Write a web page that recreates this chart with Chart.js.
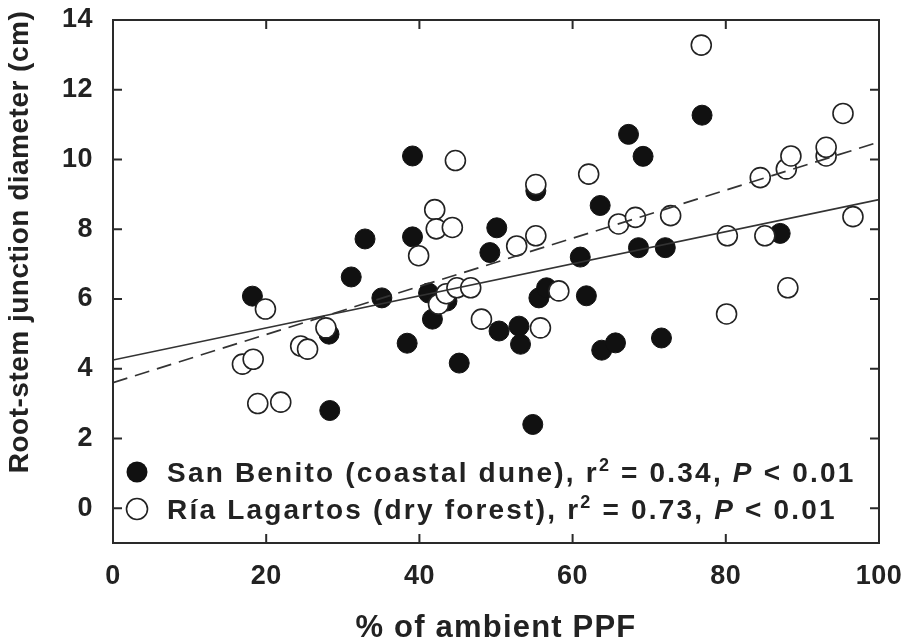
<!DOCTYPE html>
<html>
<head>
<meta charset="utf-8">
<script src="https://cdn.jsdelivr.net/npm/chart.js@4.4.0/dist/chart.umd.min.js"></script>
<style>
  html, body { margin: 0; padding: 0; background: #fff; }
  #wrap { width: 907px; height: 641px; position: relative; }
</style>
</head>
<body>
<div id="wrap"><canvas id="ppfChart"></canvas></div>
<script>
// San Benito (coastal dune) - filled circles
const sanBenitoX = [18.2, 28.2, 28.3, 31.1, 32.9, 35.1, 38.4, 39.1, 39.1, 41.2, 41.7, 43.6, 45.2, 49.2, 50.1, 50.4, 53.0,
                    53.2, 54.8, 55.2, 55.6, 56.6, 61.0, 61.8, 63.6, 63.8, 65.6, 67.3, 69.2, 68.6, 72.1, 71.6, 76.9, 87.1];
const sanBenitoY = [6.08, 4.99, 2.8, 6.63, 7.72, 6.03, 4.73, 10.1, 7.78, 6.17, 5.42, 5.94, 4.16, 7.33, 8.04, 5.08, 5.22,
                    4.70, 2.4, 9.1, 6.03, 6.32, 7.2, 6.09, 8.68, 4.53, 4.74, 10.72, 10.09, 7.47, 7.47, 4.88, 11.27, 7.88];

// Ría Lagartos (dry forest) - open circles
const riaX = [16.9, 18.3, 18.9, 19.9, 21.9, 24.5, 25.4, 27.8, 39.9, 42.0, 42.2, 44.3, 42.5, 43.5, 44.9, 46.7, 44.7, 48.1,
              52.7, 55.2, 55.2, 55.8, 58.2, 62.1, 66.0, 68.2, 72.8, 76.8, 80.2, 80.1, 84.5, 85.1, 87.9, 88.5, 88.1, 93.1,
              93.1, 95.3, 96.6];
const riaY = [4.13, 4.27, 3.0, 5.71, 3.04, 4.65, 4.56, 5.17, 7.24, 8.56, 8.01, 8.05, 5.85, 6.15, 6.32, 6.32, 9.97, 5.42,
              7.52, 7.81, 9.28, 5.17, 6.23, 9.58, 8.15, 8.34, 8.39, 13.28, 7.81, 5.57, 9.48, 7.81, 9.73, 10.1, 6.32, 10.1,
              10.35, 11.32, 8.36];

// regression lines, read at the plot edges
const fitX = [0, 100];
const sanBenitoFit = [4.25, 8.85];
const riaFit = [3.6, 10.5];

const seriesNames = ['San Benito (coastal dune)', 'Ría Lagartos (dry forest)'];
const seriesR2 = ['0.34', '0.73'];
const seriesP = ['0.01', '0.01'];

const xTicks = [0, 20, 40, 60, 80, 100];
const yTicks = [0, 2, 4, 6, 8, 10, 12, 14];
const xTitle = '% of ambient PPF';
const yTitle = 'Root-stem junction diameter (cm)';

const toPoints = (xs, ys) => xs.map((x, i) => ({ x: x, y: ys[i] }));

const FONT = '"Liberation Sans", Arial, sans-serif';
const INK = '#222';

// draws the box, inward ticks on all four sides, axis titles and the legend
const frameAndLegend = {
    id: 'frameAndLegend',
    beforeDraw(chart) {
        chart.ctx.letterSpacing = '0.5px';
    },
    afterDraw(chart) {
        const ctx = chart.ctx;
        const a = chart.chartArea;
        const xs = chart.scales.x;
        const ys = chart.scales.y;
        ctx.save();
        ctx.strokeStyle = '#2a2a2a';
        ctx.lineWidth = 2;
        ctx.strokeRect(a.left, a.top, a.right - a.left, a.bottom - a.top);

        ctx.beginPath();
        xTicks.forEach(v => {
            const px = xs.getPixelForValue(v);
            ctx.moveTo(px, a.bottom); ctx.lineTo(px, a.bottom - 9);
            ctx.moveTo(px, a.top); ctx.lineTo(px, a.top + 9);
        });
        yTicks.forEach(v => {
            const py = ys.getPixelForValue(v);
            ctx.moveTo(a.left, py); ctx.lineTo(a.left + 9, py);
            ctx.moveTo(a.right, py); ctx.lineTo(a.right - 9, py);
        });
        ctx.stroke();

        ctx.fillStyle = INK;
        ctx.textBaseline = 'alphabetic';

        // axis titles
        ctx.letterSpacing = '1.2px';
        ctx.font = 'bold 31px ' + FONT;
        ctx.textAlign = 'center';
        ctx.fillText(xTitle, (a.left + a.right) / 2, 637);
        ctx.save();
        ctx.translate(28, 242);
        ctx.rotate(-Math.PI / 2);
        ctx.letterSpacing = '0.5px';
        ctx.font = 'bold 28px ' + FONT;
        ctx.fillText(yTitle, 0, 0);
        ctx.restore();

        // legend
        ctx.textAlign = 'left';
        ctx.letterSpacing = '2.2px';
        const reg = 'bold 28px ' + FONT;
        const ital = 'italic bold 28px ' + FONT;
        const sup = 'bold 18px ' + FONT;
        const rows = [a.bottom - 61, a.bottom - 24];
        rows.forEach((y, i) => {
            ctx.beginPath();
            ctx.arc(a.left + 24, y - 10, 10.5, 0, Math.PI * 2);
            if (i === 0) {
                ctx.fillStyle = '#111';
                ctx.fill();
            } else {
                ctx.fillStyle = '#fff';
                ctx.fill();
                ctx.lineWidth = 1.6;
                ctx.strokeStyle = '#222';
                ctx.stroke();
            }
            ctx.fillStyle = INK;
            const parts = [
                { t: seriesNames[i] + ', r', f: reg },
                { t: '2', f: sup, dy: -11 },
                { t: ' = ' + seriesR2[i] + ', ', f: reg },
                { t: 'P', f: ital },
                { t: ' < ' + seriesP[i], f: reg }
            ];
            let x = a.left + 54;
            parts.forEach(p => {
                ctx.font = p.f;
                ctx.fillText(p.t, x, y + (p.dy || 0));
                x += ctx.measureText(p.t).width;
            });
        });
        ctx.restore();
        ctx.letterSpacing = '0px';
    }
};

const ctx = document.getElementById('ppfChart').getContext('2d');
new Chart(ctx, {
    type: 'scatter',
    data: {
        datasets: [
            {
                type: 'line',
                label: 'San Benito fit',
                data: toPoints(fitX, sanBenitoFit),
                borderColor: '#333',
                borderWidth: 1.6,
                pointRadius: 0,
                order: 0
            },
            {
                type: 'line',
                label: 'Ría Lagartos fit',
                data: toPoints(fitX, riaFit),
                borderColor: '#333',
                borderWidth: 1.7,
                borderDash: [15, 8],
                pointRadius: 0,
                order: 0
            },
            {
                label: seriesNames[1],
                data: toPoints(riaX, riaY),
                backgroundColor: '#fff',
                borderColor: '#222',
                borderWidth: 1.6,
                pointRadius: 10,
                order: 1
            },
            {
                label: seriesNames[0],
                data: toPoints(sanBenitoX, sanBenitoY),
                backgroundColor: '#111',
                borderColor: '#111',
                borderWidth: 1,
                pointRadius: 10,
                order: 2
            }
        ]
    },
    options: {
        responsive: true,
        maintainAspectRatio: false,
        animation: false,
        layout: { padding: { top: 20, right: 28, left: 0, bottom: 0 } },
        plugins: {
            legend: { display: false },
            tooltip: { enabled: false }
        },
        scales: {
            x: {
                type: 'linear',
                min: 0,
                max: 100,
                afterBuildTicks: s => { s.ticks = xTicks.map(v => ({ value: v })); },
                afterFit: s => { s.height = 98; s.paddingLeft = 0; s.paddingRight = 0; },
                grid: { display: false },
                border: { display: false },
                ticks: { color: INK, font: { family: FONT, size: 27, weight: 'bold' }, padding: 9, maxRotation: 0 },
                title: { display: false }
            },
            y: {
                type: 'linear',
                min: -1,
                max: 14,
                afterBuildTicks: s => { s.ticks = yTicks.map(v => ({ value: v })); },
                afterFit: s => { s.width = 113; s.paddingTop = 0; s.paddingBottom = 0; },
                grid: { display: false },
                border: { display: false },
                ticks: { color: INK, font: { family: FONT, size: 27, weight: 'bold' }, padding: 12 },
                title: { display: false }
            }
        }
    },
    plugins: [frameAndLegend]
});
</script>
</body>
</html>
